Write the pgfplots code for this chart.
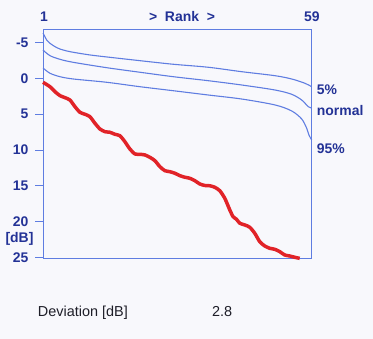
\documentclass[border=0pt]{standalone}
\usepackage{fontspec}
\setmainfont{Liberation Sans}
\usepackage{pgfplots}
\pgfplotsset{compat=1.18}
\definecolor{curveblue}{RGB}{95,125,225}
\definecolor{txtblue}{RGB}{35,50,150}
\definecolor{redc}{RGB}{225,35,40}
\definecolor{bg}{RGB}{248,248,252}
\definecolor{devtxt}{RGB}{30,30,40}
\begin{document}
\begin{tikzpicture}[x=1bp,y=1bp]
\fill[bg] (0,0) rectangle (373,339);
\begin{axis}[
  at={(43bp,80.5bp)}, anchor=south west,
  width=268.7bp, height=229bp, scale only axis,
  xmin=1, xmax=59, ymin=-6.85, ymax=25.17, y dir=reverse,
  axis line style={curveblue, line width=1pt},
  xtick=\empty,
  ytick={-5,0,5,10,15,20,25},
  ytick pos=left, tick align=outside, major tick length=8bp,
  tick style={curveblue, line width=1pt},
  yticklabel style={font=\fontsize{14}{16}\selectfont\bfseries, text=txtblue, xshift=-3bp},
  /pgf/number format/assume math mode=true,
  clip=false,
]
% 5% curve
\addplot[curveblue, line width=1.1pt, smooth] coordinates {
(1,-6.36) (1.22,-6.08) (1.80,-5.38) (2.51,-4.92) (3.59,-4.45) (4.67,-4.12)
(6.83,-3.75) (11.14,-3.29) (15.46,-2.96) (21.94,-2.49) (29.12,-1.99)
(36.68,-1.57) (43.89,-0.95) (51.08,-0.39) (54.68,0.07) (57.55,0.67) (59,1.15)};
% normal curve
\addplot[curveblue, line width=1.1pt, smooth] coordinates {
(1,-3.98) (2.51,-3.19) (4.67,-2.68) (7.54,-2.26) (14.75,-1.51) (21.94,-0.87)
(29.12,-0.25) (36.68,0.31) (43.89,0.91) (51.08,1.61) (54.68,2.21) (56.84,3.01)
(58.26,3.94) (59,4.12)};
% 95% curve
\addplot[curveblue, line width=1.1pt, smooth] coordinates {
(1,-1.47) (2.51,-0.73) (4.67,-0.25) (7.54,0.07) (14.75,0.53) (21.94,1.15)
(29.12,1.71) (36.68,2.31) (43.89,2.87) (51.08,3.70) (54.68,4.54) (56.84,5.66)
(57.92,6.96) (58.4,7.9) (59,8.6)};
% measured
\addplot[redc, line width=3.5pt, smooth, tension=0.4] coordinates {
(1,0.53) (2.51,1.15) (3.59,1.85) (4.67,2.40) (5.74,2.68) (6.82,3.01)
(7.90,3.94) (8.98,4.73) (10.06,5.00) (11.13,5.34) (12.21,6.26) (13.29,7.06)
(14.37,7.44) (15.45,7.52) (16.52,7.80) (17.60,8.00) (18.68,8.84) (19.76,9.86)
(20.84,10.55) (21.91,10.60) (22.99,10.69) (24.07,11.02) (25.15,11.49)
(26.23,12.33) (27.30,12.89) (28.38,13.03) (29.46,13.25) (30.54,13.59)
(31.62,13.81) (32.69,13.95) (33.77,14.29) (34.85,14.75) (35.93,14.96)
(37.01,15.00) (38.08,15.21) (39.16,15.69) (40.24,16.75) (41.32,18.38)
(42.03,19.32) (42.76,19.68) (43.48,20.24) (44.56,20.48) (45.63,20.80)
(46.71,21.64) (47.79,22.82) (48.87,23.42) (49.94,23.74) (51.02,23.88)
(52.10,24.21) (53.18,24.68) (54.26,24.82) (55.33,25.00) (56.41,25.15)};
\end{axis}
\begin{scope}[every node/.style={text=txtblue, font=\fontsize{14}{16}\selectfont\bfseries, inner sep=0pt}]
\node[anchor=base] at (44,317.3) {1};
\node[anchor=base] at (182,317.3) {>\ \ Rank\ \ >};
\node[anchor=base] at (312,317.3) {59};
\node[anchor=base west] at (316.7,245) {5\%};
\node[anchor=base west] at (316.7,224) {normal};
\node[anchor=base west] at (316.7,185.7) {95\%};
\node[anchor=base] at (19.5,96.3) {[dB]};
\end{scope}
\node[anchor=base west, inner sep=0pt, text=devtxt, font=\fontsize{14.5}{16}\selectfont] at (37.7,22.3) {Deviation [dB]};
\node[anchor=base west, inner sep=0pt, text=devtxt, font=\fontsize{14.5}{16}\selectfont] at (212,22.3) {2.8};
\end{tikzpicture}
\end{document}
